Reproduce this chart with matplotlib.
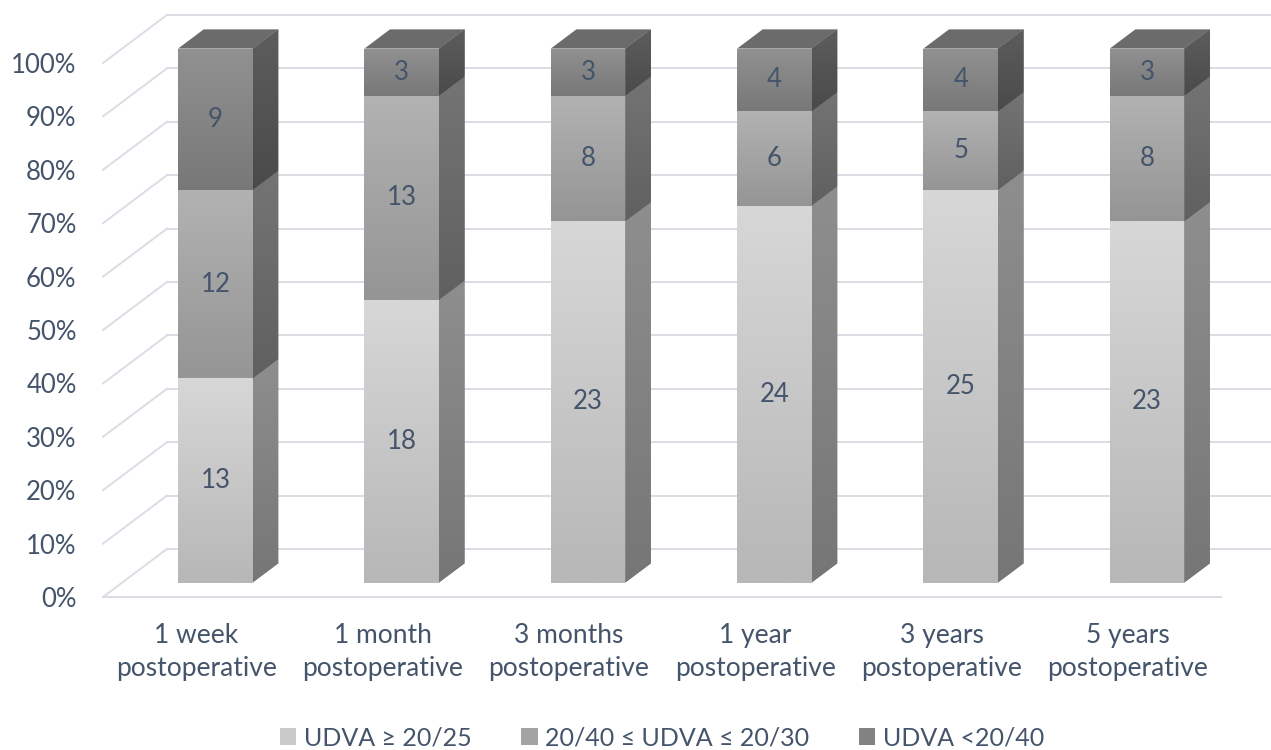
import matplotlib.pyplot as plt
import numpy as np
from matplotlib.patches import Polygon, Patch
from matplotlib.colors import to_rgb

plt.rcParams['font.family'] = ['Lato', 'DejaVu Sans']

categories = ['1 week\npostoperative', '1 month\npostoperative', '3 months\npostoperative',
              '1 year\npostoperative', '3 years\npostoperative', '5 years\npostoperative']
series_names = ['UDVA \u2265 20/25', '20/40 \u2264 UDVA \u2264 20/30', 'UDVA <20/40']
good = [13, 18, 23, 24, 25, 23]
middle = [12, 13, 8, 6, 5, 8]
poor = [9, 3, 3, 4, 4, 3]
yticks = [0, 10, 20, 30, 40, 50, 60, 70, 80, 90, 100]

TEXT = '#44546A'
GRID = '#d9dde4'
# (front top, front bottom, side top, side bottom)
shades = [('#d7d7d7', '#b7b7b7', '#8e8e8e', '#767676'),
          ('#b2b2b2', '#959595', '#747474', '#606060'),
          ('#919191', '#787878', '#5d5d5d', '#4a4a4a')]
top_face = '#6b6b6b'
legend_colors = ['#c9c9c9', '#a3a3a3', '#828282']

# oblique depth vector in data units
DX, DY = 0.3435, 9.0
half_w = 0.2
d0, d1 = 0.3, 0.7


def shaded_face(ax, pts, c_top, c_bot, z):
    poly = Polygon(pts, closed=True, facecolor=c_top, edgecolor='none',
                   clip_on=False, zorder=z)
    ax.add_patch(poly)
    grad = np.linspace(0, 1, 64)[:, None, None]
    img = (1 - grad) * np.array(to_rgb(c_top)) + grad * np.array(to_rgb(c_bot))
    xs = [p[0] for p in pts]
    ys = [p[1] for p in pts]
    im = ax.imshow(img, extent=(min(xs), max(xs), min(ys), max(ys)),
                   origin='upper', aspect='auto', interpolation='bilinear', zorder=z)
    im.set_clip_path(poly)
    im.set_clip_box(ax.figure.bbox)


fig = plt.figure(figsize=(12.71, 7.5), dpi=100)
ax = fig.add_axes([103 / 1271, 153 / 750, 1118 / 1271, 534 / 750])
ax.set_autoscale_on(False)
ax.set_xlim(-0.5, 5.5)
ax.set_ylim(0, 100)

n = len(categories)
# walls and floor
for g in yticks:
    ax.plot([-0.5 + DX, n - 0.5 + DX], [g + DY, g + DY], color=GRID, lw=1.4,
            clip_on=False, zorder=1)
    ax.plot([-0.5, -0.5 + DX], [g, g + DY], color=GRID, lw=1.4, clip_on=False, zorder=1)
ax.plot([-0.5, n - 0.5], [0, 0], color=GRID, lw=1.4, clip_on=False, zorder=1)

totals = [a + b + c for a, b, c in zip(good, middle, poor)]
for i in range(n):
    vals = [good[i], middle[i], poor[i]]
    base = 0.0
    xl = i - half_w + d0 * DX
    xr = i + half_w + d0 * DX
    for k, v in enumerate(vals):
        h = 100.0 * v / totals[i]
        lo = base + d0 * DY
        hi = base + h + d0 * DY
        ft, fb, st, sb = shades[k]
        z = 3 + k
        side = [(xr, lo), (xr + (d1 - d0) * DX, lo + (d1 - d0) * DY),
                (xr + (d1 - d0) * DX, hi + (d1 - d0) * DY), (xr, hi)]
        shaded_face(ax, side, st, sb, z)
        front = [(xl, lo), (xr, lo), (xr, hi), (xl, hi)]
        shaded_face(ax, front, ft, fb, z + 0.5)
        ax.text(i + d0 * DX, base + h / 2 + d0 * DY, str(v), ha='center', va='center',
                fontsize=18.5, color=TEXT, zorder=10)
        base += h
    top_y = base + d0 * DY
    top = [(xl, top_y), (xr, top_y),
           (xr + (d1 - d0) * DX, top_y + (d1 - d0) * DY),
           (xl + (d1 - d0) * DX, top_y + (d1 - d0) * DY)]
    ax.add_patch(Polygon(top, closed=True, facecolor=top_face, edgecolor='none',
                         clip_on=False, zorder=7))

ax.set_yticks(yticks)
ax.set_yticklabels([f'{t}%' for t in yticks])
ax.set_xticks(range(n))
ax.set_xticklabels(categories, linespacing=1.38)
ax.tick_params(axis='y', length=0, pad=19, labelsize=18.5, labelcolor=TEXT)
ax.tick_params(axis='x', length=0, pad=19, labelsize=19, labelcolor=TEXT)
for s in ax.spines.values():
    s.set_visible(False)

handles = [Patch(facecolor=c, edgecolor='none') for c in legend_colors]
fig.legend(handles, series_names, loc='center', bbox_to_anchor=(662 / 1271, 1 - 738 / 750),
           ncol=3, frameon=False, fontsize=18, labelcolor=TEXT, handlelength=0.65,
           handleheight=0.65, handletextpad=0.3, columnspacing=2.0)

fig.savefig('out.png', dpi=100)
